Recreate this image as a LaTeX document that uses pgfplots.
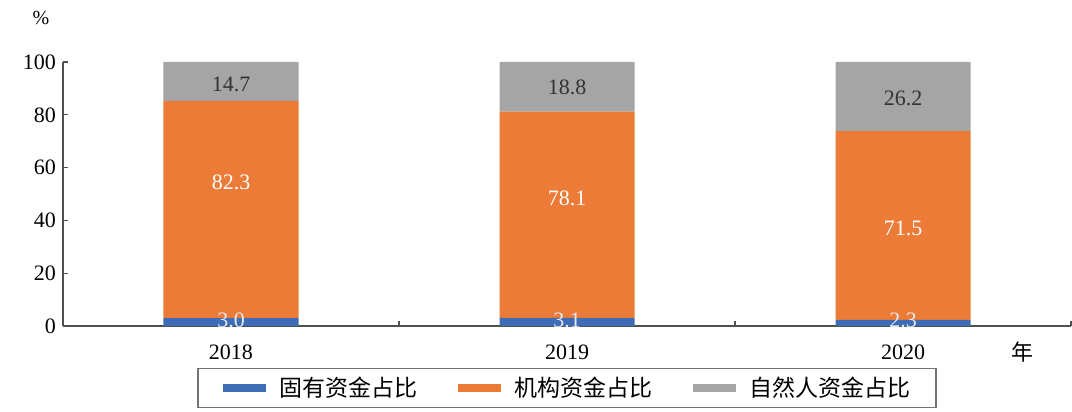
\documentclass[border=0pt]{standalone}
\usepackage{pgfplots}
\pgfplotsset{compat=1.18}
\usepackage{fontspec}
\setmainfont{Liberation Serif}
\newfontfamily\cjk{Noto Sans CJK SC}

\definecolor{cblue}{HTML}{3F6DB5}
\definecolor{corange}{HTML}{EB7B36}
\definecolor{cgray}{HTML}{A5A5A5}
\definecolor{axgray}{HTML}{505050}

\begin{document}
\begin{tikzpicture}[font=\fontsize{11}{13}\selectfont]
\begin{axis}[
	name=ax, at={(0,0)}, anchor=south west,
	scale only axis, width=504pt, height=132pt,
	ybar stacked, bar width=67.5pt,
	xmin=-0.5, xmax=2.5, ymin=0, ymax=100,
	axis lines*=left,
	axis line style={draw=axgray, line width=0.7pt},
	tick style={draw=axgray, line width=0.6pt},
	tick align=inside, major tick length=2.5pt,
	xtick={0.5,1.5,2.5}, xticklabels={},
	extra x ticks={0,1,2}, extra x tick labels={2018,2019,2020},
	extra x tick style={major tick length=0pt},
	xticklabel style={yshift=-6pt},
	ytick={0,20,...,100},
	/pgf/number format/assume math mode=true,
	xlabel={\cjk 年},
	xlabel style={at={(rel axis cs:0.9514,0)}, anchor=center, yshift=-13pt},
	ylabel={\%},
	ylabel style={rotate=-90, at={(rel axis cs:0,1)}, anchor=center, xshift=-11pt, yshift=22pt, font=\fontsize{10}{12}\selectfont},
	legend columns=3,
	legend cell align=left,
	legend style={at={(0.5,0)}, anchor=center, yshift=-31pt,
		draw=black!55, line width=0.6pt, inner xsep=10.5pt, inner ysep=2pt,
		font=\fontsize{11.5}{13}\selectfont\cjk,
		/tikz/every odd column/.append style={column sep=3pt},
		/tikz/every even column/.append style={column sep=16pt}},
]
\addplot[fill=cblue, draw=none, legend image code/.code={\draw[draw=cblue, line width=4pt] (0pt,0pt) -- (21.5pt,0pt);}]
	coordinates {(0,3.0) (1,3.1) (2,2.3)};
\addlegendentry{固有资金占比}
\addplot[fill=corange, draw=none, legend image code/.code={\draw[draw=corange, line width=4pt] (0pt,0pt) -- (21.5pt,0pt);}]
	coordinates {(0,82.3) (1,78.1) (2,71.5)};
\addlegendentry{机构资金占比}
\addplot[fill=cgray, draw=none, legend image code/.code={\draw[draw=cgray, line width=4pt] (0pt,0pt) -- (21.5pt,0pt);}]
	coordinates {(0,14.7) (1,18.8) (2,26.2)};
\addlegendentry{自然人资金占比}
\end{axis}

% value labels, in a second axis with the same scale
\begin{axis}[
	at={(ax.south west)}, anchor=south west,
	scale only axis, width=504pt, height=132pt,
	xmin=-0.5, xmax=2.5, ymin=0, ymax=100,
	hide axis, clip=false,
	nodes near coords, point meta=explicit symbolic,
	nodes near coords style={anchor=center, font=\fontsize{11}{13}\selectfont},
]
\addplot[draw=none, mark=none, nodes near coords style={text=white!85!cblue}]
	coordinates {(0,2.0)[3.0] (1,2.0)[3.1] (2,2.0)[2.3]};
\addplot[draw=none, mark=none, nodes near coords style={text=white}]
	coordinates {(0,54.5)[82.3] (1,48.5)[78.1] (2,37)[71.5]};
\addplot[draw=none, mark=none, nodes near coords style={text=black!80}]
	coordinates {(0,91.7)[14.7] (1,90.5)[18.8] (2,86.4)[26.2]};
\end{axis}

\pgfresetboundingbox
\path ([shift={(-31.5pt,-43pt)}]ax.south west) rectangle ([shift={(0.5pt,31pt)}]ax.north east);
\end{tikzpicture}
\end{document}
